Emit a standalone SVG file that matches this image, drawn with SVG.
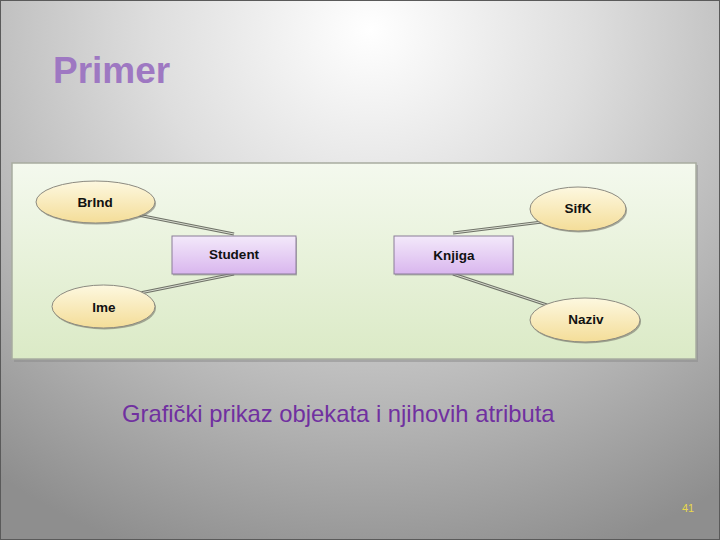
<svg xmlns="http://www.w3.org/2000/svg" width="720" height="540" viewBox="0 0 720 540">
<defs>
<radialGradient id="bg" cx="370" cy="30" r="620" gradientUnits="userSpaceOnUse" gradientTransform="translate(370 30) scale(1 0.9) translate(-370 -30)">
<stop offset="0" stop-color="#ffffff"/>
<stop offset="0.35" stop-color="#dedede"/>
<stop offset="0.7" stop-color="#b4b4b4"/>
<stop offset="1" stop-color="#8e8e8e"/>
</radialGradient>
<linearGradient id="panel" x1="0" y1="0" x2="0" y2="1">
<stop offset="0" stop-color="#f4f9ee"/>
<stop offset="1" stop-color="#dbeac6"/>
</linearGradient>
<linearGradient id="ell" x1="0" y1="0" x2="0" y2="1">
<stop offset="0" stop-color="#fdf8e0"/>
<stop offset="1" stop-color="#f4dd98"/>
</linearGradient>
<linearGradient id="box" x1="0" y1="0" x2="0" y2="1">
<stop offset="0" stop-color="#f3e9fa"/>
<stop offset="1" stop-color="#d9b6ee"/>
</linearGradient>
</defs>
<style>
.ell{fill:url(#ell);stroke:#8c8a80;stroke-width:1}
.sh{fill:#6b6b60;opacity:0.55}
.box{fill:url(#box);stroke:#8a7c98;stroke-width:1}
.lbl{font-family:"Liberation Sans",Arial,sans-serif;font-weight:bold;font-size:13.5px;fill:#111;text-anchor:middle}
.c1{stroke:#6f7268;stroke-width:3;fill:none}
.c2{stroke:#d8dccf;stroke-width:1;fill:none}
</style>
<rect x="0" y="0" width="720" height="540" fill="url(#bg)"/>
<rect x="0.5" y="0.5" width="719" height="539" fill="none" stroke="#5a5a5a" stroke-width="1"/>
<text x="53" y="83" font-family="Liberation Sans, Arial, sans-serif" font-weight="bold" font-size="37" fill="#9e78c2">Primer</text>
<g id="panel">
<rect x="14" y="165" width="684" height="197" fill="#8a8a8a" opacity="0.5"/>
<rect x="12" y="163" width="684" height="196" fill="url(#panel)" stroke="#a8aca0" stroke-width="1.5"/>
</g>
<g id="connectors">
<path class="c1" d="M138 215 L234 234"/><path class="c2" d="M138 215 L234 234"/>
<path class="c1" d="M140 293 L234 274"/><path class="c2" d="M140 293 L234 274"/>
<path class="c1" d="M453 233 L542 222"/><path class="c2" d="M453 233 L542 222"/>
<path class="c1" d="M453 274 L547 305"/><path class="c2" d="M453 274 L547 305"/>
</g>
<g id="BrInd">
<ellipse class="sh" cx="96.5" cy="203.5" rx="59.5" ry="21"/>
<ellipse class="ell" cx="95.5" cy="202" rx="59.5" ry="21"/>
<text class="lbl" x="95" y="207">BrInd</text>
</g>
<g id="Ime">
<ellipse class="sh" cx="104.5" cy="308" rx="51.5" ry="21.5"/>
<ellipse class="ell" cx="103.5" cy="306.5" rx="51.5" ry="21.5"/>
<text class="lbl" x="104" y="312">Ime</text>
</g>
<g id="Student">
<rect x="173" y="237.5" width="124" height="38" fill="#777" opacity="0.5"/>
<rect class="box" x="172" y="236" width="124" height="38"/>
<text class="lbl" x="234" y="259">Student</text>
</g>
<g id="Knjiga">
<rect x="395" y="237.5" width="119" height="38" fill="#777" opacity="0.5"/>
<rect class="box" x="394" y="236" width="119" height="38"/>
<text class="lbl" x="454" y="260">Knjiga</text>
</g>
<g id="SifK">
<ellipse class="sh" cx="579" cy="210.5" rx="48" ry="22"/>
<ellipse class="ell" cx="578" cy="209" rx="48" ry="22"/>
<text class="lbl" x="578" y="213">SifK</text>
</g>
<g id="Naziv">
<ellipse class="sh" cx="586" cy="321.5" rx="55" ry="22"/>
<ellipse class="ell" cx="585" cy="320" rx="55" ry="22"/>
<text class="lbl" x="586" y="324">Naziv</text>
</g>
<text x="122" y="422" font-family="Liberation Sans, Arial, sans-serif" font-size="23.8" fill="#7030a0">Grafički prikaz objekata i njihovih atributa</text>
<text x="688" y="512" text-anchor="middle" font-family="Liberation Sans, Arial, sans-serif" font-size="11" fill="#e8d84a">41</text>
</svg>
